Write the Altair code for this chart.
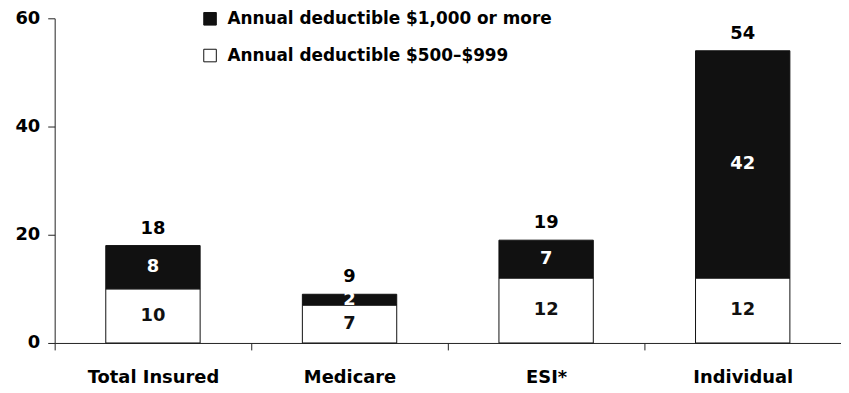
import altair as alt
import pandas as pd

categories = ["Total Insured", "Medicare", "ESI*", "Individual"]
low_values = [10, 7, 12, 12]      # Annual deductible $500–$999
high_values = [8, 2, 7, 42]       # Annual deductible $1,000 or more
totals = [18, 9, 19, 54]

S_HIGH = "Annual deductible $1,000 or more"
S_LOW = "Annual deductible $500\u2013$999"

rows = []
for c, lo, hi in zip(categories, low_values, high_values):
    rows.append({"cat": c, "series": S_LOW, "value": lo, "ord": 0, "tcol": "#111111"})
    rows.append({"cat": c, "series": S_HIGH, "value": hi, "ord": 1, "tcol": "white"})
df = pd.DataFrame(rows)
tot = pd.DataFrame({"cat": categories, "total": totals})

FONT = "DejaVu Sans"

xenc = alt.X("cat:N", sort=categories, title=None,
             scale=alt.Scale(paddingInner=0, paddingOuter=0),
             axis=alt.Axis(labelAngle=0, tickBand="extent", tickSize=7, labelPadding=19,
                           labelFontSize=18, labelFont=FONT, labelFontWeight="bold",
                           labelColor="black", domainColor="#222", tickColor="#222"))

bars = alt.Chart(df).mark_bar(stroke="#111111", strokeWidth=1, width={"band": 0.48}).encode(
    x=xenc,
    y=alt.Y("value:Q", stack="zero", title=None,
            scale=alt.Scale(domain=[0, 60], nice=False),
            axis=alt.Axis(values=[0, 20, 40, 60], tickSize=7, labelPadding=8, grid=False,
                          labelFontSize=18, labelFont=FONT, labelFontWeight="bold",
                          labelColor="black", domainColor="#222", tickColor="#222")),
    color=alt.Color("series:N", title=None,
                    scale=alt.Scale(domain=[S_HIGH, S_LOW], range=["#111111", "white"]),
                    legend=alt.Legend(orient="none", legendX=148, legendY=-8,
                                      symbolType="square", symbolSize=160,
                                      symbolStrokeColor="#111111", symbolStrokeWidth=1,
                                      labelFontSize=17, labelFont=FONT, labelFontWeight="bold",
                                      labelColor="black", labelOffset=9, rowPadding=19,
                                      labelLimit=600)),
    order=alt.Order("ord:Q"),
)

inner = alt.Chart(df).transform_stack(
    stack="value", groupby=["cat"], as_=["y0", "y1"], sort=[alt.SortField("ord")]
).transform_calculate(mid="(datum.y0 + datum.y1) / 2").mark_text(
    font=FONT, fontWeight="bold", fontSize=18, baseline="middle"
).encode(
    x=alt.X("cat:N", sort=categories),
    y=alt.Y("mid:Q"),
    text=alt.Text("value:Q"),
    color=alt.Color("tcol:N", scale=None),
)

top = alt.Chart(tot).mark_text(
    font=FONT, fontWeight="bold", fontSize=18, baseline="bottom", dy=-8, color="black"
).encode(
    x=alt.X("cat:N", sort=categories),
    y=alt.Y("total:Q"),
    text=alt.Text("total:Q"),
)

chart = alt.layer(bars, inner, top).properties(
    width=792, height=327,
    autosize=alt.AutoSizeParams(type="none"),
    padding={"left": 47, "top": 9, "right": 0, "bottom": 48},
    background="white",
).configure_view(stroke=None)

chart.save("out.html", embed_options={"renderer": "svg", "actions": False})
